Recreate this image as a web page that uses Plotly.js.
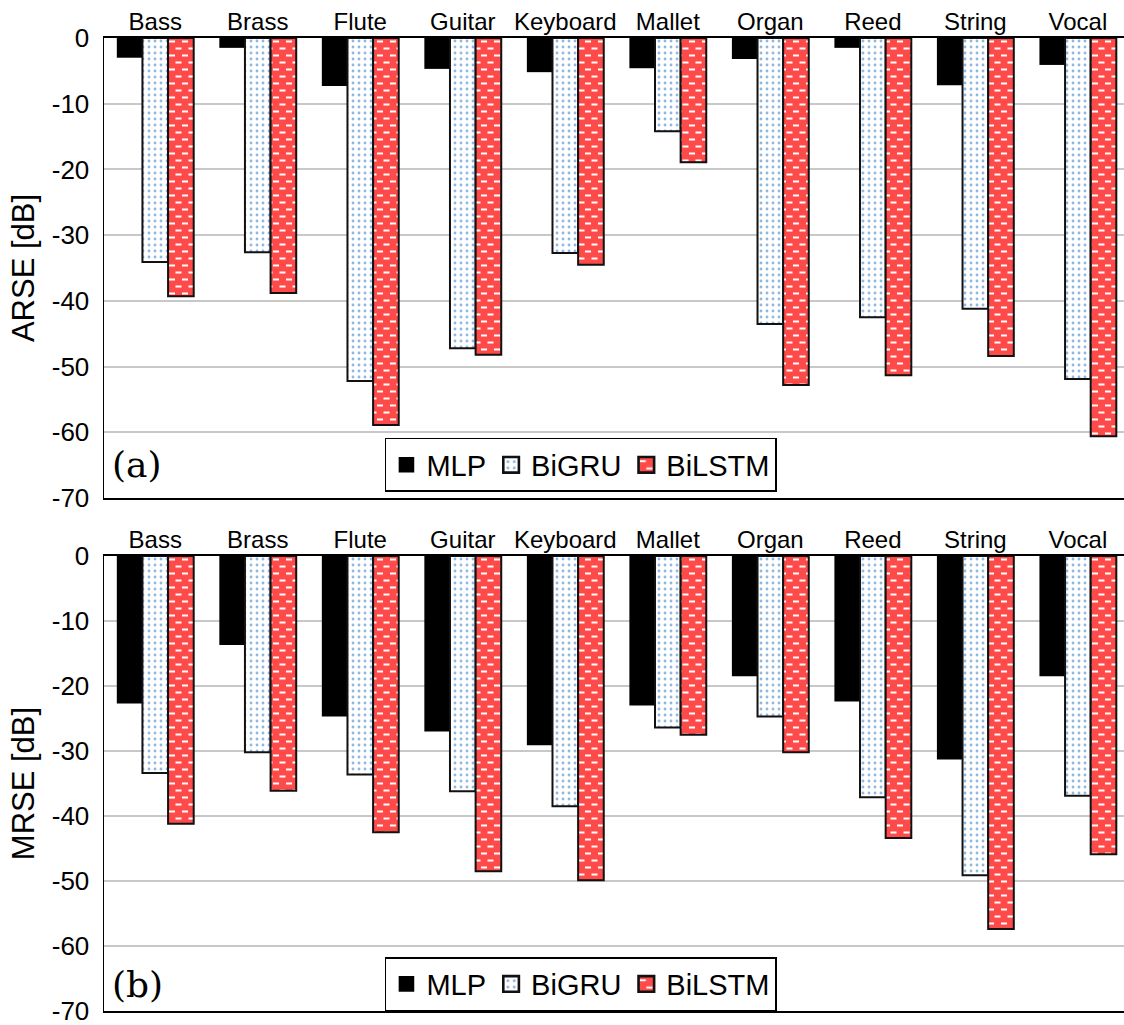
<!DOCTYPE html>
<html><head><meta charset="utf-8">
<script src="https://cdn.plot.ly/plotly-3.0.1.min.js"></script>
<style>body{margin:0;padding:0;overflow:hidden;background:#fff}</style>
</head><body><div id="chart" style="width:1124px;height:1025px"></div>
<script>
const categories = ["Bass","Brass","Flute","Guitar","Keyboard","Mallet","Organ","Reed","String","Vocal"];
const seriesNames = ["MLP","BiGRU","BiLSTM"];
const arseMLP    = [-3.0, -1.5, -7.3, -4.7, -5.2, -4.6, -3.2, -1.5, -7.2, -4.1];
const arseBiGRU  = [-34.1, -32.6, -52.2, -47.2, -32.7, -14.2, -43.5, -42.5, -41.2, -51.9];
const arseBiLSTM = [-39.3, -38.8, -58.9, -48.2, -34.5, -18.9, -52.8, -51.3, -48.4, -60.6];
const mrseMLP    = [-22.7, -13.7, -24.7, -27.0, -29.1, -23.0, -18.5, -22.4, -31.3, -18.5];
const mrseBiGRU  = [-33.4, -30.2, -33.6, -36.2, -38.5, -26.4, -24.7, -37.1, -49.1, -36.9];
const mrseBiLSTM = [-41.2, -36.1, -42.5, -48.5, -49.9, -27.5, -30.2, -43.4, -57.4, -45.9];
const yTickVals = [0,-10,-20,-30,-40,-50,-60,-70];

const FONT = "Liberation Sans, Arial, sans-serif";
const RED = "#ff4a4a";

function styles(i){
  if(i===0) return {color:"#000000", line:{color:"#000000", width:0}};
  if(i===1) return {color:"#ffffff", line:{color:"#111111", width:2},
    pattern:{shape:".", fgcolor:"#8fb8e0", bgcolor:"#ffffff", size:6, solidity:0.18, fillmode:"replace"}};
  return {color:RED, line:{color:"#111111", width:2},
    pattern:{shape:"-", fgcolor:"#ffffff", bgcolor:RED, size:7, solidity:0.25, fillmode:"replace"}};
}

const traces = [];
[[arseMLP,arseBiGRU,arseBiLSTM],[mrseMLP,mrseBiGRU,mrseBiLSTM]].forEach((set,p)=>{
  set.forEach((vals,i)=>{
    traces.push({
      type:"bar", x:categories, y:vals, name:seriesNames[i],
      xaxis: p===0?"x":"x2", yaxis: p===0?"y":"y2",
      legend: p===0?"legend":"legend2",
      marker: styles(i), hoverinfo:"skip"
    });
  });
});

function xax(anchor){
  return {type:"category", side:"top", anchor:anchor, range:[-0.5, 9.45],
    showline:true, mirror:true, linecolor:"#000", linewidth:2, showgrid:false, ticks:"",
    tickfont:{family:FONT, size:24, color:"#000"}, fixedrange:true, ticklabelstandoff:-4};
}
function yax(title, domain){
  return {range:[-70,0], domain:domain, tickvals:yTickVals, ticktext:yTickVals.map(String),
    showline:true, mirror:true, linecolor:"#000", linewidth:1.5,
    showgrid:true, gridcolor:"#c8c8c8", gridwidth:2, zeroline:false, ticks:"",
    ticklabeloverflow:"allow",
    tickfont:{family:FONT, size:26, color:"#000"}, ticklabelstandoff:8,
    title:{text:title, font:{family:FONT, size:31, color:"#000"}, standoff:8}};
}
function leg(y){
  return {orientation:"h", x:0.4676, y:y, xanchor:"center", yanchor:"middle",
    bgcolor:"#fff", bordercolor:"#000", borderwidth:1.5,
    font:{family:FONT, size:29, color:"#000"}, itemwidth:30, tracegroupgap:0};
}

const layout = {
  width:1124, height:1025,
  margin:{l:104, r:0, t:38, b:14},
  paper_bgcolor:"#fff", plot_bgcolor:"#fff",
  barmode:"group", bargap:0.25, bargroupgap:0,
  showlegend:true,
  xaxis:xax("y"), xaxis2:xax("y2"),
  yaxis:yax("ARSE [dB]", [0.5272, 1]),
  yaxis2:yax("MRSE [dB]", [0, 0.4676]),
  legend:leg(0.5612), legend2:leg(0.0277),
  annotations:[
    {text:"(a)", xref:"paper", yref:"paper", x:0.006, y:0.5612, xanchor:"left", yanchor:"middle",
     showarrow:false, font:{family:"DejaVu Serif, Liberation Serif, serif", size:36, color:"#000"}},
    {text:"(b)", xref:"paper", yref:"paper", x:0.006, y:0.0277, xanchor:"left", yanchor:"middle",
     showarrow:false, font:{family:"DejaVu Serif, Liberation Serif, serif", size:36, color:"#000"}}
  ]
};

Plotly.newPlot("chart", traces, layout, {staticPlot:true, displayModeBar:false}).then(()=>{
  // turn the horizontal-line pattern into short staggered dashes
  document.querySelectorAll("pattern").forEach(pt=>{
    const path = pt.querySelector("path");
    if(!path) return;
    const st = (path.getAttribute("style")||"") + (path.getAttribute("stroke")||"");
    if(/255, 255, 255|#fff|white/i.test(st)){
      pt.setAttribute("width", 13); pt.setAttribute("height", 14);
      const r = pt.querySelector("rect");
      if(r){ r.setAttribute("width", 13); r.setAttribute("height", 14); }
      path.setAttribute("d", "M0,3.5H6M6.5,10.5H12.5");
      path.style.strokeWidth = "2px";
    }
  });
  // slightly larger legend swatches, keeping Plotly's own placement
  document.querySelectorAll(".legendpoints path").forEach(p=>{
    const t = p.getAttribute("transform") || "";
    p.setAttribute("transform", t + " scale(1.3)");
  });
});
</script></body></html>
